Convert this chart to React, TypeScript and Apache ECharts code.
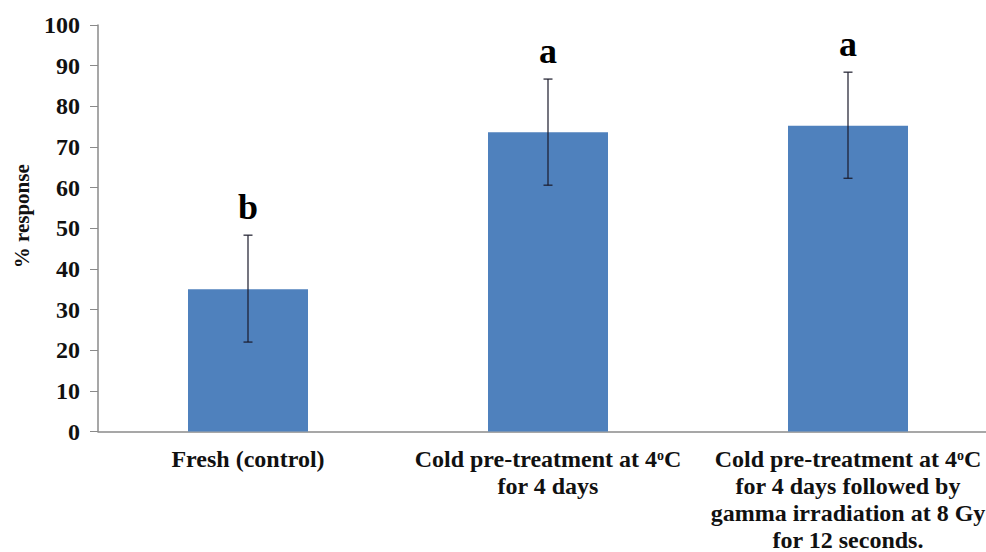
import React, { useEffect, useRef } from "react";
import * as echarts from "echarts";

const categories = [
  "Fresh (control)",
  "Cold pre-treatment at 4{sup|o}C\nfor 4 days",
  "Cold pre-treatment at 4{sup|o}C\nfor 4 days followed by\ngamma irradiation at 8 Gy\nfor 12 seconds.",
];
const responseValues = [35.0, 73.6, 75.2];
const errorLow = [22.0, 60.6, 62.3];
const errorHigh = [48.3, 86.7, 88.4];
const letters = ["b", "a", "a"];
const yTicks = { min: 0, max: 100, interval: 10 };

const FONT = "Liberation Serif";

export default function App() {
  const ref = useRef<HTMLDivElement>(null);
  useEffect(() => {
    if (!ref.current) return;
    const chart = echarts.init(ref.current, null, { renderer: "svg" });
    const errData = categories.map((_, i) => [i, errorLow[i], errorHigh[i]]);
    const txt = (size: number) => ({
      fontFamily: FONT,
      fontWeight: "bold" as const,
      fontSize: size,
      color: "#111",
    });
    chart.setOption({
      animation: false,
      backgroundColor: "#ffffff",
      textStyle: { fontFamily: FONT },
      grid: { left: 98, top: 25, right: 2, height: 406.5, containLabel: false, outerBoundsMode: "none" },
      xAxis: {
        type: "category",
        data: categories,
        axisLine: { lineStyle: { color: "#8a8a8a", width: 1.5 } },
        axisTick: { show: false },
        axisLabel: {
          interval: 0,
          margin: 14,
          ...txt(24),
          lineHeight: 27,
          formatter: (v: string) =>
            v
              .split("\n")
              .map((line) =>
                line
                  .split("{sup|o}")
                  .map((p) => (p ? `{t|${p}}` : ""))
                  .join("{sup|o}")
              )
              .join("\n"),
          rich: {
            t: { ...txt(24), lineHeight: 27 },
            sup: { ...txt(14), lineHeight: 27, padding: [0, 0, 8, 0] },
          },
        },
      },
      yAxis: {
        type: "value",
        min: yTicks.min,
        max: yTicks.max,
        interval: yTicks.interval,
        name: "% response",
        nameLocation: "middle",
        nameGap: 66,
        nameTextStyle: { ...txt(21), padding: [0, 0, 0, 24] },
        axisLine: { show: true, lineStyle: { color: "#8a8a8a", width: 1.5 } },
        axisTick: { show: true, inside: false, length: 8, lineStyle: { color: "#8a8a8a" } },
        splitLine: { show: false },
        axisLabel: {
          margin: 18,
          ...txt(24),
        },
      },
      series: [
        {
          type: "bar",
          data: responseValues,
          barWidth: "40%",
          itemStyle: { color: "#4f81bd" },
        },
        {
          type: "custom",
          data: errData,
          z: 10,
          renderItem: (params: any, api: any) => {
            const x = api.value(0);
            const lo = api.coord([x, api.value(1)]);
            const hi = api.coord([x, api.value(2)]);
            const cx = lo[0];
            const half = 4.5;
            const st = { stroke: "#1a1a2a", lineWidth: 1.2 };
            return {
              type: "group",
              children: [
                { type: "line", shape: { x1: cx, y1: lo[1], x2: cx, y2: hi[1] }, style: st },
                { type: "line", shape: { x1: cx - half, y1: lo[1], x2: cx + half, y2: lo[1] }, style: st },
                { type: "line", shape: { x1: cx - half, y1: hi[1], x2: cx + half, y2: hi[1] }, style: st },
                {
                  type: "text",
                  x: cx,
                  y: hi[1] - 10,
                  style: {
                    text: String(letters[params.dataIndex]),
                    fill: "#000",
                    fontFamily: FONT,
                    fontWeight: "bold",
                    fontSize: 36,
                    align: "center",
                    verticalAlign: "bottom",
                  },
                },
              ],
            };
          },
        },
      ],
    });
    return () => chart.dispose();
  }, []);
  return (
    <div style={{ position: "fixed", left: 0, top: 0, width: 986, height: 552, overflow: "hidden", background: "#fff" }}>
      <div ref={ref} style={{ width: 1000, height: 552 }} />
    </div>
  );
}
